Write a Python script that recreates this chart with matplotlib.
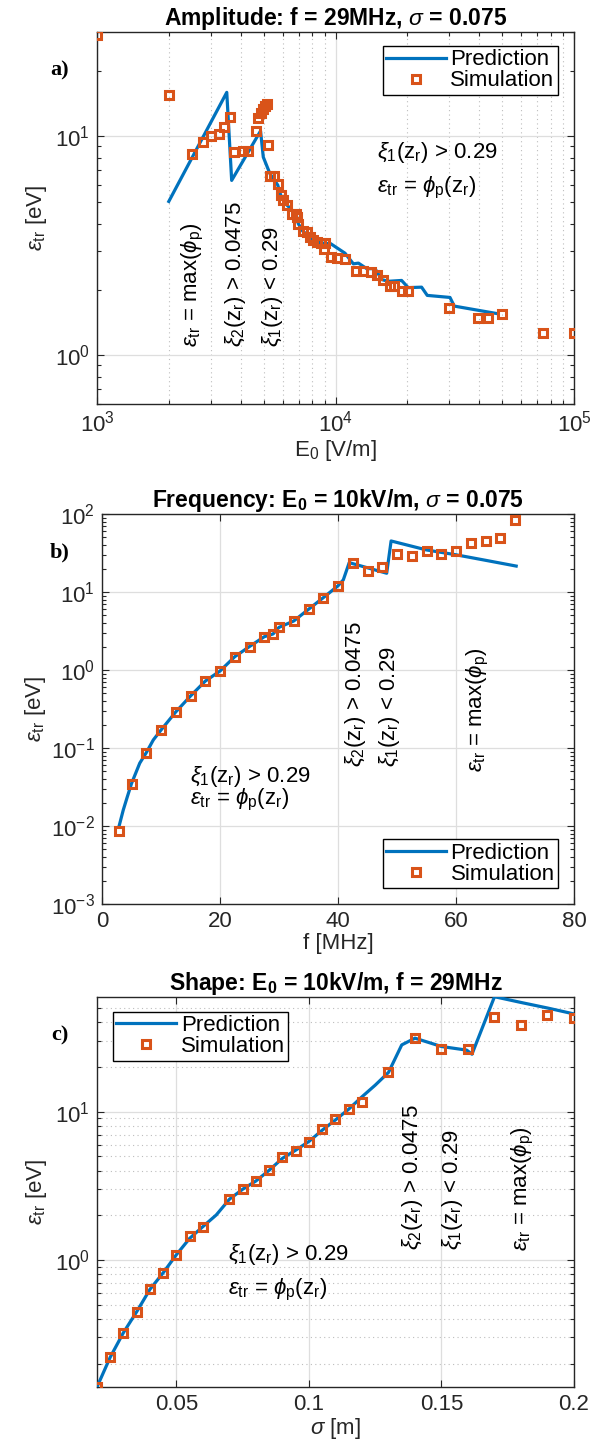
import matplotlib
matplotlib.use("Agg")
import matplotlib.pyplot as plt
from matplotlib.ticker import LogLocator, FixedLocator, NullFormatter, FixedFormatter

plt.rcParams['font.family'] = ['Liberation Sans', 'DejaVu Sans']
plt.rcParams['mathtext.fontset'] = 'custom'
plt.rcParams['mathtext.rm'] = 'Liberation Sans'
plt.rcParams['mathtext.it'] = 'Liberation Sans:italic'
plt.rcParams['mathtext.bf'] = 'Liberation Sans:bold'
plt.rcParams['mathtext.fallback'] = 'stixsans'

BLUE = '#0072BD'
ORANGE = '#D95319'
AX = '#262626'

# ---------------- Panel a: amplitude ----------------
a_sim_E = [1000, 2000, 2500, 2770, 3000, 3260, 3400, 3625, 3750, 4080, 4300, 4625,
           4745, 4850, 4950, 5060, 5175, 5195, 5310, 5540, 5725, 5890, 6000, 6280,
           6590, 6830, 6870, 6980, 7280, 7620, 7820, 8020, 8340, 8660, 9030, 8980,
           9540, 10110, 11000, 12150, 13090, 14060, 14970, 15770, 16930, 17590,
           18920, 20180, 29900, 39700, 43750, 50000, 74300, 100000]
a_sim_eps = [29.0, 15.4, 8.3, 9.4, 10.1, 10.3, 11.0, 12.3, 8.47, 8.54, 8.6, 10.6,
             12.2, 12.8, 13.4, 13.8, 14.0, 9.1, 6.62, 6.62, 6.04, 5.43, 5.1, 4.84,
             4.43, 4.43, 4.29, 3.99, 3.70, 3.66, 3.47, 3.37, 3.29, 3.25, 3.25, 3.07,
             2.83, 2.80, 2.76, 2.44, 2.43, 2.40, 2.32, 2.22, 2.08, 2.08,
             1.96, 1.96, 1.65, 1.48, 1.48, 1.54, 1.26, 1.26]
a_pred_E = [2000, 3500, 3670, 4850, 4980, 5310, 5725, 5890, 6280, 6830, 6980, 7280,
            7820, 8340, 9030, 9540, 10960, 11880, 12480, 13520, 14650, 15630, 16640,
            18930, 20180, 22960, 24250, 30200, 31470, 48000]
a_pred_eps = [5.05, 15.9, 6.3, 10.6, 8.05, 6.76, 6.0, 5.4, 4.84, 4.43, 4.0, 3.7,
              3.47, 3.29, 3.25, 3.24, 2.93, 2.62, 2.64, 2.49, 2.49, 2.22, 2.18,
              2.20, 2.04, 2.05, 1.88, 1.84, 1.68, 1.55]

# ---------------- Panel b: frequency ----------------
b_sim_f = [2.8, 5, 7.5, 10, 12.5, 15, 17.5, 20, 22.5, 25, 27.5, 29, 30, 32.5, 35,
           37.5, 40, 42.5, 45, 47.5, 50, 52.5, 55, 57.5, 60, 62.5, 65, 67.5, 70]
b_sim_eps = [0.0087, 0.0347, 0.087, 0.17, 0.29, 0.464, 0.72, 0.97, 1.48, 2.0, 2.67,
             2.9, 3.52, 4.25, 6.0, 8.45, 12.0, 23.3, 18.6, 20.7, 30.4, 29.2, 33.6,
             30.4, 33.6, 42.9, 45.1, 49.7, 83.8]
b_pred_f = [2.9, 3.6, 4.3, 5, 6.4, 7.5, 8.7, 10, 12.5, 15, 17.5, 20, 22.5, 25, 27.5,
            29, 30, 32.5, 35, 37.5, 40, 40.9, 41.9, 48.25, 49.0, 55, 60, 65, 70.2]
b_pred_eps = [0.0100, 0.016, 0.0238, 0.035, 0.064, 0.087, 0.127, 0.17, 0.29, 0.464,
              0.72, 0.97, 1.48, 2.0, 2.67, 2.9, 3.52, 4.25, 6.0, 8.45, 12.0, 14.3,
              23.8, 17.4, 45.1, 34.6, 30.0, 25.5, 21.5]

# ---------------- Panel c: shape ----------------
c_sim_sigma = [0.02, 0.025, 0.03, 0.035, 0.04, 0.045, 0.05, 0.055, 0.06, 0.07, 0.075,
               0.08, 0.085, 0.09, 0.095, 0.10, 0.105, 0.11, 0.115, 0.12, 0.13, 0.14,
               0.15, 0.16, 0.17, 0.18, 0.19, 0.20]
c_sim_eps = [0.139, 0.221, 0.324, 0.448, 0.634, 0.82, 1.087, 1.44, 1.68, 2.57, 3.0,
             3.41, 4.03, 4.93, 5.46, 6.22, 7.61, 8.89, 10.4, 11.7, 18.4, 31.3,
             26.3, 26.3, 43.7, 38.5, 44.9, 42.7]
c_pred_sigma = [0.02, 0.025, 0.03, 0.035, 0.04, 0.045, 0.05, 0.055, 0.06, 0.065, 0.07,
                0.075, 0.08, 0.085, 0.09, 0.095, 0.10, 0.105, 0.11, 0.115, 0.12, 0.125,
                0.13, 0.135, 0.14, 0.15, 0.1595, 0.1615, 0.17, 0.18, 0.19, 0.20]
c_pred_eps = [0.139, 0.221, 0.324, 0.448, 0.634, 0.82, 1.087, 1.40, 1.68, 2.01, 2.57,
              3.0, 3.41, 4.03, 4.85, 5.5, 6.3, 7.5, 8.8, 10.4, 12.6, 15.1,
              18.4, 28.2, 31.3, 27.5, 26.0, 24.4, 59.6, 54.5, 50.0, 45.6]

W, H = 603, 1441
fig = plt.figure(figsize=(W / 100, H / 100), dpi=100)


def add_axes(l, t, r, b):
    return fig.add_axes([l / W, 1 - b / H, (r - l) / W, (b - t) / H])


FS = 16


def style(ax):
    for s in ax.spines.values():
        s.set_color(AX)
        s.set_linewidth(1.0)
    ax.tick_params(which='both', direction='in', top=True, right=True,
                   colors=AX, labelsize=FS, width=0.8)
    ax.tick_params(which='major', length=5, pad=5)
    ax.tick_params(which='minor', length=3)
    ax.set_axisbelow(True)


def draw(ax, px, py, sx, sy):
    ln, = ax.plot(px, py, '-', color=BLUE, lw=2.3, label='Prediction', zorder=3)
    mk, = ax.plot(sx, sy, 's', color=ORANGE, mfc='none', mec=ORANGE, ms=6.0,
                  mew=2.2, label='Simulation', zorder=4)
    return ln, mk


def legend(ax, loc, anchor):
    lg = ax.legend(loc=loc, bbox_to_anchor=anchor, borderaxespad=0, fontsize=FS,
                   frameon=True, fancybox=False, framealpha=1, edgecolor='black',
                   borderpad=0.15, labelspacing=0.0, handlelength=2.7,
                   handletextpad=0.2)
    lg.get_frame().set_linewidth(1.0)
    return lg


ylab = r'$\epsilon_{\mathrm{tr}}$ [eV]'
t_xi1 = r'$\xi_1$(z$_\mathrm{r}$) > 0.29'
t_phi = r'$\epsilon_{\mathrm{tr}}$ = $\phi_\mathrm{p}$(z$_\mathrm{r}$)'
t_xi2v = r'$\xi_2$(z$_\mathrm{r}$) > 0.0475'
t_xi1v = r'$\xi_1$(z$_\mathrm{r}$) < 0.29'
t_maxv = r'$\epsilon_{\mathrm{tr}}$ = max($\phi_\mathrm{p}$)'
TFS = 16.5

# ===== a =====
ax = add_axes(97, 32, 574, 404)
style(ax)
draw(ax, a_pred_E, a_pred_eps, a_sim_E, a_sim_eps)
ax.set_xscale('log')
ax.set_yscale('log')
ax.set_xlim(1e3, 1e5)
ax.set_ylim(0.6, 30)
ax.xaxis.set_major_locator(LogLocator(10, numticks=10))
ax.xaxis.set_minor_locator(LogLocator(10, subs=range(2, 10), numticks=20))
ax.xaxis.set_minor_formatter(NullFormatter())
ax.yaxis.set_minor_formatter(NullFormatter())
ax.grid(True, which='major', color='#DEDEDE', lw=0.9, ls='-')
ax.grid(True, which='minor', axis='x', color='#BDBDBD', lw=0.8, ls=(0, (1, 3)))
ax.set_title(r'Amplitude: f = 29MHz, $\sigma$ = 0.075', fontweight='bold',
             fontsize=TFS, pad=4)
ax.set_xlabel(r'E$_\mathrm{0}$ [V/m]', fontsize=FS, color=AX, labelpad=1)
ax.set_ylabel(ylab, fontsize=FS, color=AX, labelpad=4)
legend(ax, 'upper right', (0.966, 0.962))
ax.text(14930, 8.45, t_xi1, fontsize=FS, va='center', ha='left')
ax.text(14930, 5.85, t_phi, fontsize=FS, va='center', ha='left')
for xx, tt in [(2527, t_maxv), (3796, t_xi2v), (5420, t_xi1v)]:
    ax.text(xx, 1.09, tt, fontsize=FS, rotation=90, ha='center', va='bottom')

# ===== b =====
ax = add_axes(102, 514, 574, 904)
style(ax)
draw(ax, b_pred_f, b_pred_eps, b_sim_f, b_sim_eps)
ax.set_yscale('log')
ax.set_xlim(0, 80)
ax.set_ylim(1e-3, 1e2)
ax.xaxis.set_major_locator(FixedLocator([0, 20, 40, 60, 80]))
ax.yaxis.set_major_locator(LogLocator(10, numticks=10))
ax.yaxis.set_minor_locator(LogLocator(10, subs=range(2, 10), numticks=20))
ax.yaxis.set_minor_formatter(NullFormatter())
ax.grid(True, which='major', color='#DEDEDE', lw=0.9, ls='-')
ax.set_title(r'Frequency: E$_\mathbf{0}$ = 10kV/m, $\sigma$ = 0.075',
             fontweight='bold', fontsize=TFS, pad=4)
ax.set_xlabel('f [MHz]', fontsize=FS, color=AX, labelpad=1)
ax.set_ylabel(ylab, fontsize=FS, color=AX, labelpad=2)
legend(ax, 'lower right', (0.966, 0.041))
ax.text(14.9, 0.0425, t_xi1, fontsize=FS, va='center', ha='left')
ax.text(14.9, 0.0216, t_phi, fontsize=FS, va='center', ha='left')
for xx, yy, tt in [(43.05, 0.057, t_xi2v), (48.8, 0.057, t_xi1v), (63.7, 0.049, t_maxv)]:
    ax.text(xx, yy, tt, fontsize=FS, rotation=90, ha='center', va='bottom')

# ===== c =====
ax = add_axes(97, 996.7, 574, 1387)
style(ax)
draw(ax, c_pred_sigma, c_pred_eps, c_sim_sigma, c_sim_eps)
ax.set_yscale('log')
ax.set_xlim(0.02, 0.2)
ax.set_ylim(0.139, 59.6)
ax.xaxis.set_major_locator(FixedLocator([0.05, 0.1, 0.15, 0.2]))
ax.xaxis.set_major_formatter(FixedFormatter(['0.05', '0.1', '0.15', '0.2']))
ax.yaxis.set_major_locator(LogLocator(10, numticks=10))
ax.yaxis.set_minor_locator(LogLocator(10, subs=range(2, 10), numticks=20))
ax.yaxis.set_minor_formatter(NullFormatter())
ax.grid(True, which='major', color='#DEDEDE', lw=0.9, ls='-')
ax.grid(True, which='minor', axis='y', color='#BDBDBD', lw=0.8, ls=(0, (1, 3)))
ax.set_title(r'Shape: E$_\mathbf{0}$ = 10kV/m, f = 29MHz', fontweight='bold',
             fontsize=TFS, pad=4)
ax.set_xlabel(r'$\sigma$ [m]', fontsize=FS, color=AX, labelpad=1)
ax.set_ylabel(ylab, fontsize=FS, color=AX, labelpad=4)
legend(ax, 'upper left', (0.0335, 0.961))
ax.text(0.0695, 1.08, t_xi1, fontsize=FS, va='center', ha='left')
ax.text(0.0695, 0.628, t_phi, fontsize=FS, va='center', ha='left')
for xx, yy, tt in [(0.1391, 1.17, t_xi2v), (0.1542, 1.17, t_xi1v), (0.1807, 1.15, t_maxv)]:
    ax.text(xx, yy, tt, fontsize=FS, rotation=90, ha='center', va='bottom')

# panel letters
for y, s in [(70, 'a)'), (552, 'b)'), (1035, 'c)')]:
    fig.text(60 / W, 1 - y / H, s, fontsize=16, fontweight='bold',
             family='Liberation Serif', ha='center', va='center')

fig.savefig('out.png', dpi=100)
